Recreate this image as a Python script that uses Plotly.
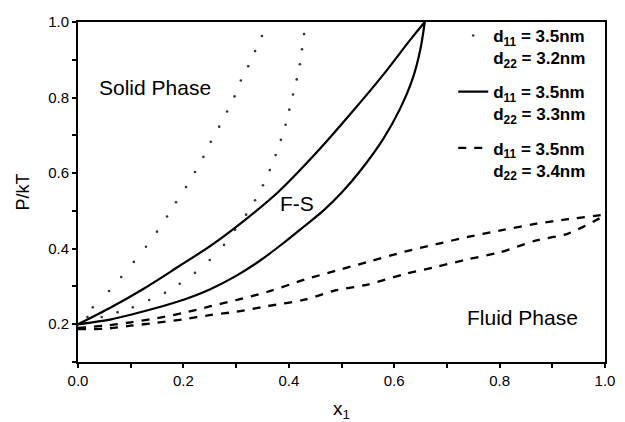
import plotly.graph_objects as go

# ---- data ----
# d11 = 3.5nm, d22 = 3.2nm (dotted)
dot_upper_x = [0, 0.018, 0.028, 0.059, 0.082, 0.106, 0.129, 0.15, 0.169, 0.186, 0.205,
               0.222, 0.238, 0.252, 0.268, 0.283, 0.297, 0.309, 0.323, 0.336, 0.349]
dot_upper_y = [0.2, 0.219, 0.245, 0.288, 0.325, 0.365, 0.405, 0.445, 0.485, 0.523, 0.563,
               0.603, 0.643, 0.683, 0.723, 0.763, 0.803, 0.845, 0.883, 0.923, 0.963]
dot_lower_x = [0, 0.045, 0.075, 0.104, 0.135, 0.165, 0.193, 0.222, 0.25, 0.277, 0.298, 0.319,
               0.336, 0.351, 0.364, 0.375, 0.385, 0.394, 0.401, 0.408, 0.415, 0.421, 0.425, 0.429]
dot_lower_y = [0.2, 0.219, 0.232, 0.245, 0.264, 0.283, 0.307, 0.336, 0.37, 0.41, 0.45, 0.49,
               0.528, 0.568, 0.608, 0.648, 0.688, 0.728, 0.768, 0.808, 0.848, 0.888, 0.928, 0.968]

# d11 = 3.5nm, d22 = 3.3nm (solid)
sol_upper_x = [0, 0.063, 0.127, 0.19, 0.252, 0.316, 0.38, 0.453, 0.516, 0.579, 0.63, 0.658]
sol_upper_y = [0.2, 0.245, 0.296, 0.352, 0.408, 0.475, 0.55, 0.655, 0.755, 0.86, 0.952, 1.0]
sol_lower_x = [0, 0.063, 0.127, 0.19, 0.25, 0.3, 0.345, 0.39, 0.43, 0.465, 0.5, 0.535,
               0.579, 0.611, 0.635, 0.65, 0.658]
sol_lower_y = [0.2, 0.213, 0.235, 0.26, 0.292, 0.328, 0.368, 0.415, 0.46, 0.5, 0.548, 0.605,
               0.69, 0.77, 0.85, 0.93, 1.0]

# d11 = 3.5nm, d22 = 3.4nm (dashed)
dash_upper_x = [0, 0.05, 0.1, 0.15, 0.2, 0.25, 0.3, 0.36, 0.43, 0.49, 0.55, 0.62, 0.68, 0.74,
                0.8, 0.87, 0.93, 1.0]
dash_upper_y = [0.19, 0.196, 0.205, 0.216, 0.23, 0.247, 0.264, 0.286, 0.318, 0.342, 0.365,
                0.392, 0.412, 0.431, 0.448, 0.466, 0.478, 0.49]
dash_lower_x = [0, 0.05, 0.1, 0.15, 0.2, 0.25, 0.3, 0.36, 0.43, 0.49, 0.55, 0.62, 0.68, 0.74,
                0.8, 0.87, 0.93, 1.0]
dash_lower_y = [0.187, 0.188, 0.196, 0.204, 0.213, 0.224, 0.233, 0.248, 0.265, 0.29, 0.305,
                0.333, 0.352, 0.372, 0.39, 0.422, 0.44, 0.488]

legend_names = ["d<sub>11</sub> = 3.5nm<br>d<sub>22</sub> = 3.2nm",
                "d<sub>11</sub> = 3.5nm<br>d<sub>22</sub> = 3.3nm",
                "d<sub>11</sub> = 3.5nm<br>d<sub>22</sub> = 3.4nm"]

FONT = "Liberation Sans, Arial, sans-serif"

fig = go.Figure()

dot_marker = dict(size=2.6, color="#333333", line=dict(width=0))
fig.add_trace(go.Scatter(x=dot_upper_x, y=dot_upper_y, mode="markers", marker=dot_marker,
                         name=legend_names[0], legendgroup="a"))
fig.add_trace(go.Scatter(x=dot_lower_x, y=dot_lower_y, mode="markers", marker=dot_marker,
                         name=legend_names[0], legendgroup="a", showlegend=False))

sol_line = dict(color="black", width=2.2, shape="spline", smoothing=0.8)
fig.add_trace(go.Scatter(x=sol_upper_x, y=sol_upper_y, mode="lines", line=sol_line,
                         name=legend_names[1], legendgroup="b"))
fig.add_trace(go.Scatter(x=sol_lower_x, y=sol_lower_y, mode="lines", line=sol_line,
                         name=legend_names[1], legendgroup="b", showlegend=False))

dash_line = dict(color="black", width=2.3, dash="8px,8px", shape="spline", smoothing=0.8)
fig.add_trace(go.Scatter(x=dash_upper_x, y=dash_upper_y, mode="lines", line=dash_line,
                         name=legend_names[2], legendgroup="c"))
fig.add_trace(go.Scatter(x=dash_lower_x, y=dash_lower_y, mode="lines", line=dash_line,
                         name=legend_names[2], legendgroup="c", showlegend=False))

axis_common = dict(
    showline=True, linecolor="black", linewidth=2, mirror=True,
    ticks="outside", ticklen=4, tickwidth=2, tickcolor="black",
    showgrid=False, zeroline=False, automargin=False,
    tickfont=dict(family=FONT, size=15, color="black"),
    minor=dict(ticks="outside", ticklen=4, tickwidth=2, tickcolor="black", dtick=0.1),
)

fig.update_xaxes(range=[0, 1.0], tick0=0, dtick=0.2, tickformat=".1f",
                 title=dict(text="x<sub>1</sub>", font=dict(family=FONT, size=19, color="black"), standoff=15),
                 **axis_common)
fig.update_yaxes(range=[0.1, 1.0], tick0=0, dtick=0.2, tickformat=".1f",
                 title=dict(text="P/kT", font=dict(family=FONT, size=18, color="black"), standoff=14),
                 **axis_common)

fig.add_annotation(text="Solid Phase", x=0.036, y=0.827, xref="x", yref="y", xanchor="left",
                   yanchor="middle", showarrow=False, font=dict(family=FONT, size=21, color="black"))
fig.add_annotation(text="F-S", x=0.415, y=0.52, xref="x", yref="y", xanchor="center",
                   yanchor="middle", showarrow=False, font=dict(family=FONT, size=21, color="black"))
fig.add_annotation(text="Fluid Phase", x=0.844, y=0.219, xref="x", yref="y", xanchor="center",
                   yanchor="middle", showarrow=False, font=dict(family=FONT, size=21, color="black"))

# the page body adds an 8px offset, so the figure is 8px smaller than the window
fig.update_layout(
    width=617, height=414,
    margin=dict(l=70, r=20, t=14, b=60, autoexpand=False),
    paper_bgcolor="white", plot_bgcolor="white",
    showlegend=True,
    legend=dict(x=0.712, y=1.012, xanchor="left", yanchor="top", bgcolor="rgba(0,0,0,0)",
                borderwidth=0, valign="top", tracegroupgap=9,
                font=dict(family=FONT, size=17, color="black", weight="bold")),
)

fig.write_html("out.html")
